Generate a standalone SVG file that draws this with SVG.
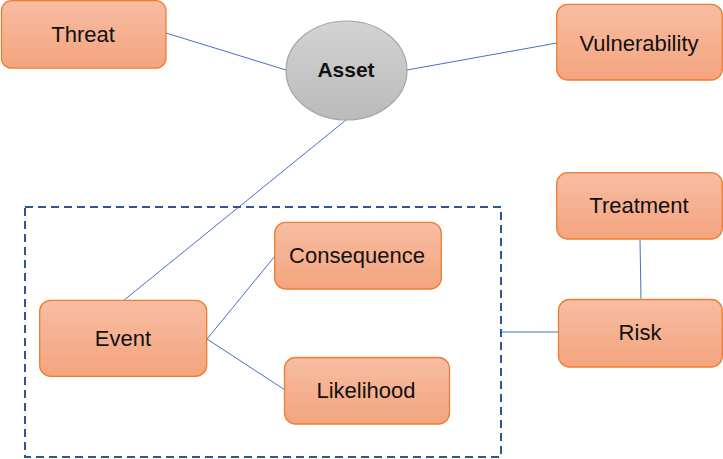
<svg xmlns="http://www.w3.org/2000/svg" width="723" height="459" viewBox="0 0 723 459">
<defs>
<linearGradient id="og" x1="0" y1="0" x2="0" y2="1">
<stop offset="0" stop-color="#F7BDA2"/>
<stop offset="1" stop-color="#F4A47E"/>
</linearGradient>
<linearGradient id="gg" x1="0" y1="0" x2="0" y2="1">
<stop offset="0" stop-color="#D3D3D3"/>
<stop offset="1" stop-color="#BABABA"/>
</linearGradient>
<style>
.box{fill:url(#og);stroke:#ED7D31;stroke-width:1.3}
.lbl{font-family:"Liberation Sans",Arial,sans-serif;font-size:22px;fill:#111;text-anchor:middle}
.ln{stroke:#4472C4;stroke-width:1;fill:none}
</style>
</defs>
<rect x="0" y="0" width="723" height="459" fill="#fff"/>
<g id="connectors">
<line class="ln" x1="166" y1="33" x2="286" y2="70"/>
<line class="ln" x1="407" y1="70" x2="557" y2="43"/>
<line class="ln" x1="123" y1="301" x2="346" y2="120"/>
<line class="ln" x1="207" y1="339" x2="275" y2="256"/>
<line class="ln" x1="207" y1="339" x2="285" y2="390"/>
<line class="ln" x1="640" y1="239" x2="641" y2="299"/>
<line class="ln" x1="501" y1="332" x2="559" y2="332"/>
</g>
<g id="group-box">
<rect x="25" y="207" width="476" height="250" fill="none" stroke="#2F5597" stroke-width="2" stroke-dasharray="8,5"/>
</g>
<g id="threat">
<rect class="box" x="1.5" y="0.7" width="164.5" height="67.5" rx="10"/>
<text class="lbl" x="83" y="42">Threat</text>
</g>
<g id="asset">
<ellipse cx="346.5" cy="70.5" rx="60.5" ry="49.5" fill="url(#gg)" stroke="#A5A5A5" stroke-width="1.2"/>
<text class="lbl" x="346" y="77" font-weight="bold" style="font-size:21px">Asset</text>
</g>
<g id="vulnerability">
<rect class="box" x="556.7" y="4.3" width="165.6" height="75.7" rx="11"/>
<text class="lbl" x="639" y="51">Vulnerability</text>
</g>
<g id="treatment">
<rect class="box" x="556.7" y="172.7" width="165.6" height="66.3" rx="11"/>
<text class="lbl" x="639" y="213">Treatment</text>
</g>
<g id="risk">
<rect class="box" x="558.5" y="299.5" width="163.8" height="67.5" rx="11"/>
<text class="lbl" x="640" y="340">Risk</text>
</g>
<g id="event">
<rect class="box" x="39.7" y="300.3" width="167" height="76" rx="11"/>
<text class="lbl" x="123" y="346">Event</text>
</g>
<g id="consequence">
<rect class="box" x="274.7" y="222.3" width="166.6" height="66.7" rx="11"/>
<text class="lbl" x="357" y="263">Consequence</text>
</g>
<g id="likelihood">
<rect class="box" x="284.5" y="357.5" width="165" height="66.5" rx="11"/>
<text class="lbl" x="366" y="398">Likelihood</text>
</g>
</svg>
